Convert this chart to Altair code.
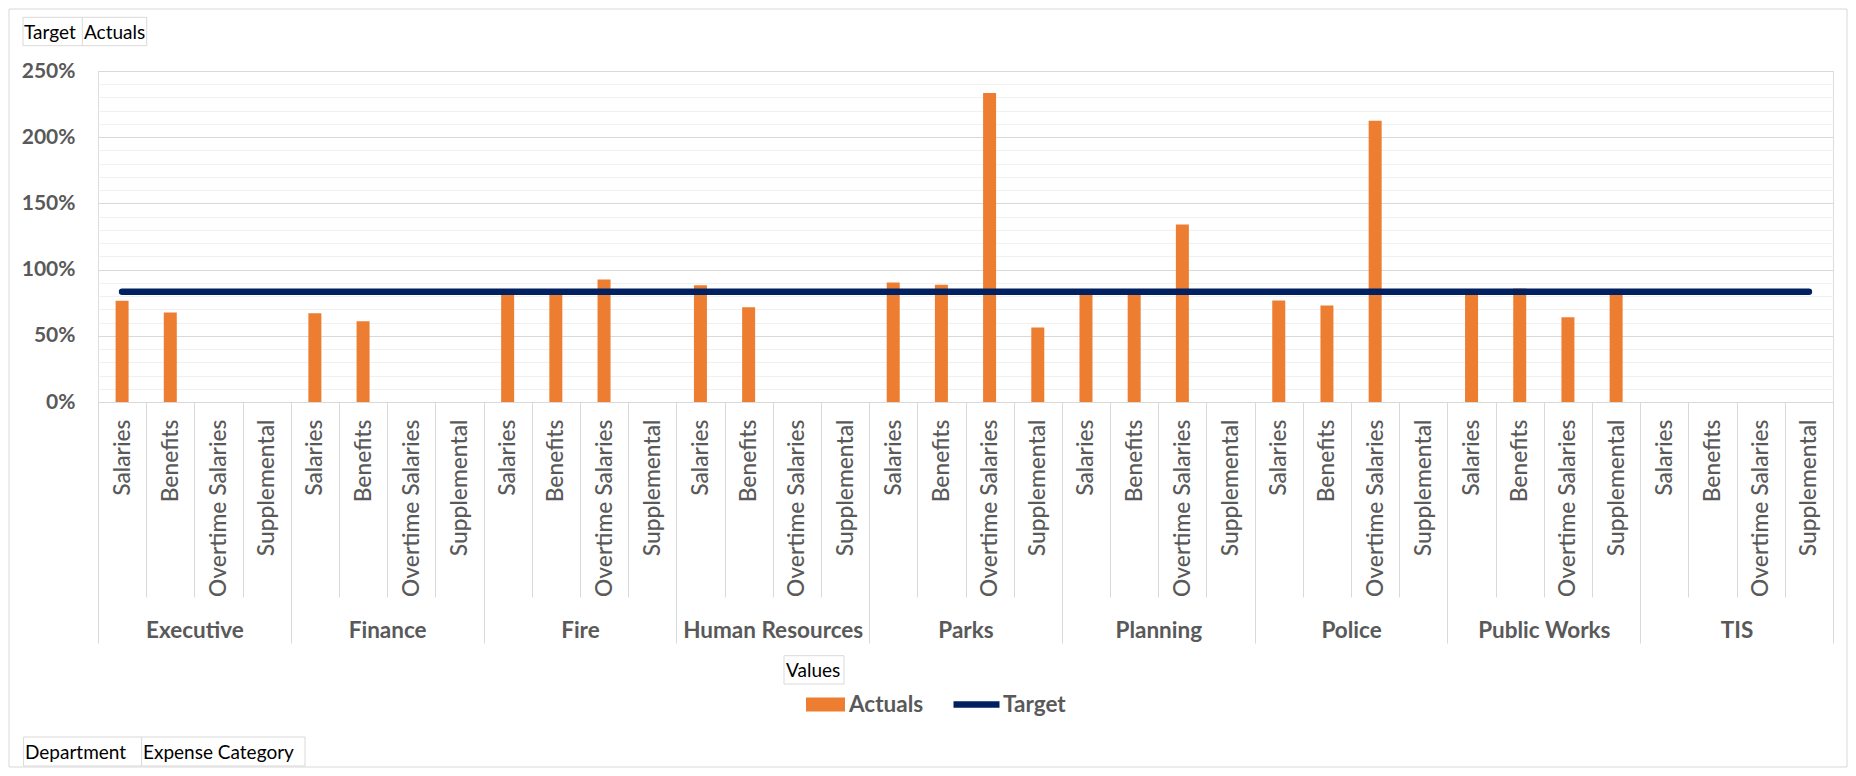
import altair as alt
import pandas as pd

# ---------------- data ----------------
DEPARTMENTS = ["Executive", "Finance", "Fire", "Human Resources", "Parks",
               "Planning", "Police", "Public Works", "TIS"]
CATEGORIES = ["Salaries", "Benefits", "Overtime Salaries", "Supplemental"]
# actuals as share of budget, one row of four per department (None = no bar)
ACTUALS = [
    0.764, 0.676, None, None,    # Executive
    0.671, 0.610, None, None,    # Finance
    0.830, 0.820, 0.925, None,   # Fire
    0.882, 0.716, None, None,    # Human Resources
    0.902, 0.885, 2.334, 0.562,  # Parks
    0.820, 0.815, 1.341, None,   # Planning
    0.766, 0.729, 2.124, None,   # Police
    0.830, 0.857, 0.640, 0.835,  # Public Works
    None, None, None, None,      # TIS
]
TARGET = 0.833
Y_MAJOR = [0, 0.5, 1.0, 1.5, 2.0, 2.5]
Y_MINOR = [0.1, 0.2, 0.3, 0.4, 0.6, 0.7, 0.8, 0.9, 1.1, 1.2, 1.3, 1.4,
           1.6, 1.7, 1.8, 1.9, 2.1, 2.2, 2.3, 2.4]

KEYS = [f"{d}|{c}" for d in DEPARTMENTS for c in CATEGORIES]

bar_df = pd.DataFrame({"key": KEYS, "value": ACTUALS})
bar_df = bar_df[bar_df["value"].notna()].copy()
bar_df["series"] = "Actuals"

line_df = pd.DataFrame({"key": KEYS})
line_df["target"] = TARGET
line_df["series"] = "Target"

dept_df = pd.DataFrame({"Department": DEPARTMENTS})
dept_df["zero"] = 0

one = pd.DataFrame({"o": [0]})

# ---------------- style ----------------
FONT = "Lato"
GRAY = "#595959"
GRID = "#D9D9D9"
MINOR = "#F0F0F0"
ORANGE = "#ED7D31"
NAVY = "#002060"

W, H = 1735, 331
y_scale = alt.Scale(domain=[0, 2.5], nice=False, zero=True)

# helper layer: department axis (outer category level) + minor gridlines
helper = alt.Chart(dept_df).mark_point(opacity=0).encode(
    x=alt.X("Department:N",
            scale=alt.Scale(type="band", domain=DEPARTMENTS, paddingInner=0, paddingOuter=0),
            axis=alt.Axis(orient="bottom", title=None, tickBand="extent", tickSize=241,
                          tickColor=GRID, tickWidth=1, domain=False, labelAngle=0,
                          labelBaseline="alphabetic", labelPadding=-6, labelFont=FONT,
                          labelFontSize=22.5, labelFontWeight="bold", labelColor=GRAY,
                          labelLimit=0, labelOverlap=False)),
    y=alt.Y("zero:Q", scale=y_scale,
            axis=alt.Axis(orient="left", title=None, values=Y_MINOR, grid=True,
                          gridColor=MINOR, gridWidth=1, labels=False, ticks=False,
                          domain=False)),
)

bars = alt.Chart(bar_df).mark_bar(size=13).encode(
    x=alt.X("key:N",
            scale=alt.Scale(type="band", domain=KEYS, paddingInner=0, paddingOuter=0),
            axis=alt.Axis(orient="bottom", title=None, tickBand="extent", tickSize=195,
                          tickColor=GRID, tickWidth=1, domain=True, domainColor=GRID,
                          domainWidth=1, labelAngle=270, labelAlign="right",
                          labelBaseline="middle", labelPadding=-178,
                          labelExpr="split(datum.label, '|')[1]", labelFont=FONT,
                          labelFontSize=22.8, labelFontWeight=500, labelColor=GRAY,
                          labelLimit=0, labelOverlap=False)),
    y=alt.Y("value:Q", scale=y_scale,
            axis=alt.Axis(orient="left", title=None, values=Y_MAJOR, format=".0%",
                          grid=True, gridColor=GRID, gridWidth=1, ticks=False,
                          domain=False, labelFont=FONT, labelFontSize=21,
                          labelFontWeight="bold", labelColor=GRAY, labelPadding=23)),
    fill=alt.Fill("series:N", scale=alt.Scale(domain=["Actuals"], range=[ORANGE]),
                  legend=alt.Legend(orient="none", legendX=708, legendY=614, title=None,
                                    symbolType="M-1,-0.359H1V0.359H-1Z", symbolSize=1521,
                                    symbolStrokeWidth=0, padding=0, labelOffset=4,
                                    labelFont=FONT, labelFontSize=22.5,
                                    labelFontWeight="bold", labelColor=GRAY)),
)

line = alt.Chart(line_df).mark_line(strokeWidth=6.5, strokeCap="round").encode(
    x=alt.X("key:N", scale=alt.Scale(type="point", domain=KEYS, padding=0.5), axis=None),
    y=alt.Y("target:Q", scale=y_scale, axis=None),
    stroke=alt.Stroke("series:N", scale=alt.Scale(domain=["Target"], range=[NAVY]),
                      legend=alt.Legend(orient="none", legendX=852, legendY=607, title=None,
                                        symbolType="stroke", symbolSize=2116,
                                        symbolStrokeWidth=6.5, padding=0, labelOffset=0,
                                        labelFont=FONT, labelFontSize=22.5,
                                        labelFontWeight="bold", labelColor=GRAY)),
)


def box(x1, x2, y1, y2, fill="white", opacity=1):
    return alt.Chart(one).mark_rect(fill=fill, fillOpacity=opacity, stroke=GRID,
                                    strokeWidth=1).encode(
        x=alt.value(x1), x2=alt.value(x2), y=alt.value(y1), y2=alt.value(y2))


def vline(x, y1, y2):
    return alt.Chart(one).mark_rule(color=GRID, strokeWidth=1).encode(
        x=alt.value(x), y=alt.value(y1), y2=alt.value(y2))


def label(x, y, s, size=19):
    return alt.Chart(one).mark_text(align="left", baseline="alphabetic", font=FONT,
                                    fontSize=size, color="black").encode(
        x=alt.value(x), y=alt.value(y), text=alt.value(s))


border = box(-89, 1749, -62, 696, opacity=0)

deco = [
    box(-75, 48.7, -53.7, -25.3), vline(-15.7, -53.7, -25.3),
    label(-74, -32, "Target"), label(-14, -32, "Actuals"),
    box(686, 746, 584.7, 613), label(688, 606, "Values"),
    box(-74.4, 207, 666, 695), vline(43.6, 666, 695),
    label(-73, 688, "Department"), label(45, 688, "Expense Category"),
]

chart = alt.layer(border, helper, bars, line, *deco).resolve_scale(
    x="independent"
).resolve_axis(
    x="independent", y="independent"
).properties(
    width=W, height=H,
    autosize=alt.AutoSizeParams(type="none"),
    padding={"left": 90, "top": 63, "right": 15, "bottom": 366},
).configure_view(stroke="transparent").configure(background="white", font=FONT)

chart.save("out.html", embed_options={"renderer": "svg", "actions": False})
